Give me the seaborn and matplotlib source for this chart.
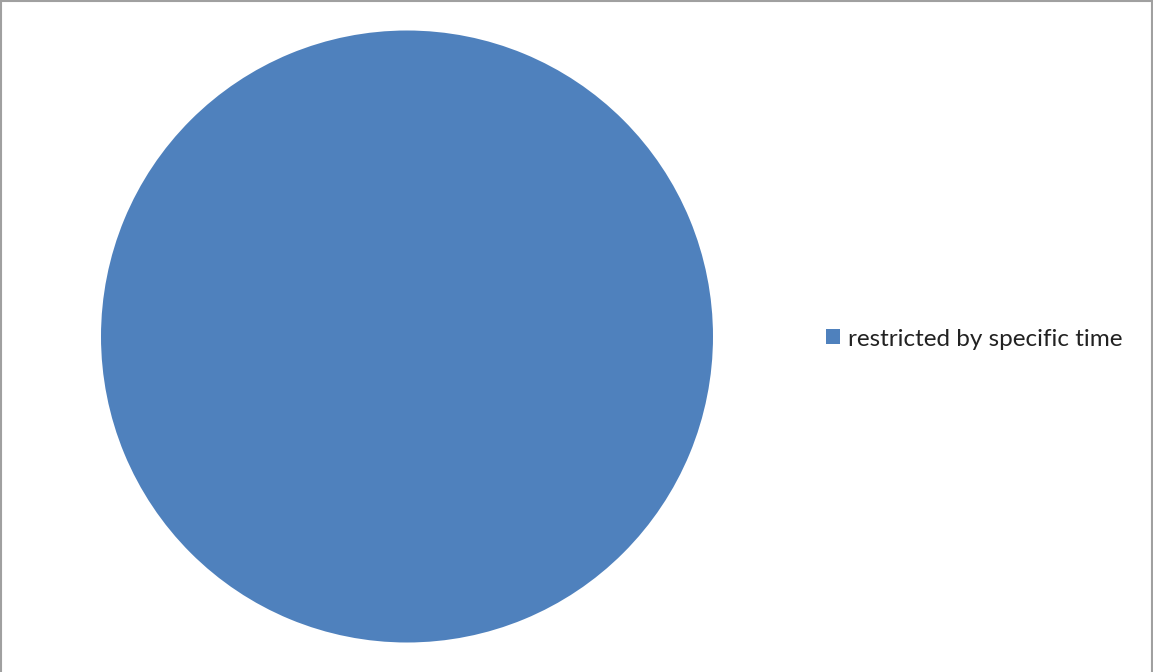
import matplotlib
matplotlib.use("Agg")
import matplotlib.pyplot as plt
from matplotlib.patches import Rectangle
import seaborn as sns

categories = ["restricted by specific time"]
values = [100]
colors = ["#4F81BD"]

sns.set_style("white")
plt.rcParams["font.family"] = ["Lato", "DejaVu Sans"]

W, H = 1153, 672
fig = plt.figure(figsize=(W / 100, H / 100), dpi=100)
fig.patch.set_facecolor("white")

# pie axes occupies the left part of the canvas
ax = fig.add_axes([101 / W, 29 / H, 612 / W, 613 / H])
wedges, _ = ax.pie(values, colors=colors, startangle=90, counterclock=False,
                   wedgeprops=dict(linewidth=0))
ax.set_xlim(-1, 1)
ax.set_ylim(-1, 1)
ax.set_aspect("equal")
ax.axis("off")

fig.legend(wedges, categories, loc="center left",
           bbox_to_anchor=(826 / W, 1 - 339 / H), frameon=False,
           borderpad=0, borderaxespad=0,
           fontsize=17.5, handlelength=0.58, handleheight=0.58,
           handletextpad=0.33, labelcolor="#222222")

# chart-area outline
fig.add_artist(Rectangle((0.5 / W, -0.01), (W - 1.5) / W, 1.01 - 1 / H,
                         transform=fig.transFigure, fill=False,
                         edgecolor="#A0A0A0", linewidth=1.5))

fig.savefig("out.png", dpi=100, facecolor="white")
